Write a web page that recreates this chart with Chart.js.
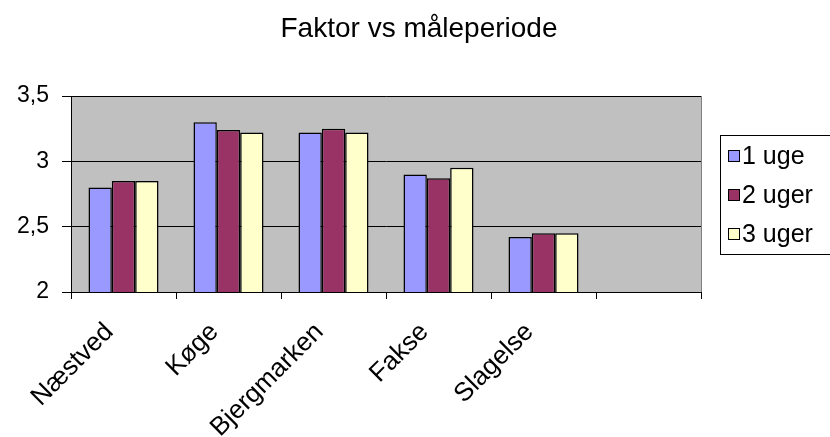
<!DOCTYPE html>
<html>
<head>
<meta charset="utf-8">
<script src="https://cdn.jsdelivr.net/npm/chart.js@4/dist/chart.umd.min.js"></script>
<style>
  body { margin: 0; background: #fff; }
  #wrap { width: 830px; height: 437px; }
</style>
</head>
<body>
<div id="wrap"><canvas id="c" width="830" height="437"></canvas></div>
<script>
// data
const categories = ['Næstved', 'Køge', 'Bjergmarken', 'Fakse', 'Slagelse', ''];
const uge1 = [2.80, 3.30, 3.22, 2.90, 2.42, null];
const uge2 = [2.85, 3.24, 3.25, 2.87, 2.45, null];
const uge3 = [2.85, 3.22, 3.22, 2.95, 2.45, null];
const seriesNames = ['1 uge', '2 uger', '3 uger'];
const yTicks = [2, 2.5, 3, 3.5];
const chartTitle = 'Faktor vs måleperiode';

const fontFam = '"Liberation Sans", Arial, sans-serif';

// grey plot area like the old excel charts
const plotBg = {
    id: 'plotBg',
    beforeDraw(chart) {
        const a = chart.chartArea, ctx = chart.ctx;
        ctx.save();
        ctx.fillStyle = '#c0c0c0';
        ctx.fillRect(a.left, a.top, a.right - a.left, a.bottom - a.top);
        ctx.strokeStyle = '#808080';
        ctx.lineWidth = 1;
        ctx.strokeRect(a.left + 0.5, a.top + 0.5, a.right - a.left, a.bottom - a.top);
        ctx.restore();
    }
};

// title centred on the whole canvas + boxed legend on the right
const extras = {
    id: 'extras',
    afterDraw(chart) {
        const a = chart.chartArea, ctx = chart.ctx;
        ctx.save();
        ctx.fillStyle = '#000';
        ctx.font = '28px ' + fontFam;
        ctx.textAlign = 'center';
        ctx.textBaseline = 'alphabetic';
        ctx.fillText(chartTitle, 419, 37);

        const x0 = a.right + 19, y0 = 135, w = 115, h = 119;
        ctx.strokeStyle = '#000';
        ctx.lineWidth = 1;
        ctx.strokeRect(x0 + 0.5, y0 + 0.5, w, h);
        ctx.font = '25px ' + fontFam;
        ctx.textAlign = 'left';
        ctx.textBaseline = 'middle';
        chart.data.datasets.forEach((ds, i) => {
            const cy = y0 + 21 + i * 39;
            ctx.fillStyle = ds.backgroundColor;
            ctx.fillRect(x0 + 8, cy - 6, 11, 11);
            ctx.strokeStyle = '#000';
            ctx.strokeRect(x0 + 8.5, cy - 5.5, 11, 11);
            ctx.fillStyle = '#000';
            ctx.fillText(ds.label, x0 + 22, cy + 1);
        });
        ctx.restore();
    }
};

const colors = ['#9999ff', '#993366', '#ffffcc'];
const values = [uge1, uge2, uge3];

new Chart(document.getElementById('c'), {
    type: 'bar',
    data: {
        labels: categories,
        datasets: seriesNames.map((name, i) => ({
            label: name,
            data: values[i],
            backgroundColor: colors[i],
            borderColor: '#000',
            borderWidth: 1.5,
            categoryPercentage: 0.667,
            barPercentage: 1
        }))
    },
    options: {
        responsive: false,
        animation: false,
        layout: { padding: { left: 0, right: 129, top: 96, bottom: 0 } },
        plugins: {
            legend: { display: false },
            tooltip: { enabled: false },
            title: { display: false }
        },
        scales: {
            x: {
                afterFit(scale) { scale.height = 145; },
                grid: { display: true, drawOnChartArea: false, color: '#000', tickLength: 7, offset: true },
                border: { color: '#000' },
                ticks: {
                    color: '#000',
                    font: { family: fontFam, size: 26 },
                    minRotation: 45,
                    maxRotation: 45,
                    padding: 18,
                    labelOffset: -14
                }
            },
            y: {
                min: 2,
                max: 3.5,
                afterFit(scale) { scale.width = 71; },
                afterBuildTicks(scale) { scale.ticks = yTicks.map(v => ({ value: v })); },
                grid: { color: '#000', tickLength: 9 },
                border: { color: '#000' },
                ticks: {
                    color: '#000',
                    font: { family: fontFam, size: 23 },
                    padding: 13,
                    callback: v => String(v).replace('.', ',')
                }
            }
        }
    },
    plugins: [plotBg, extras]
});
</script>
</body>
</html>
